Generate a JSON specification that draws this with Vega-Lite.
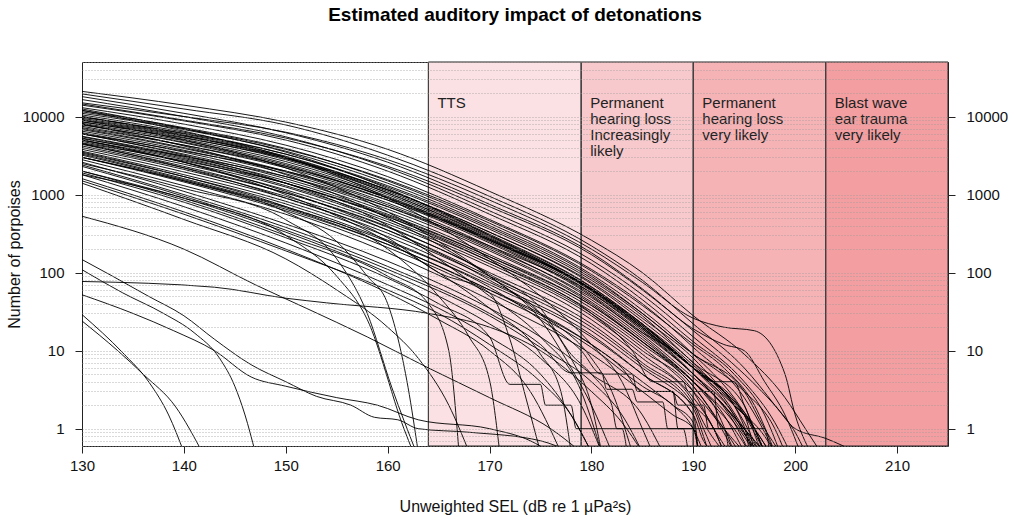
{
"$schema":"https://vega.github.io/schema/vega-lite/v6.json",
"width":866,"height":384,"autosize":"none",
"padding":{"left":82,"top":62,"right":70,"bottom":75},
"background":"white",
"config":{"font":"Liberation Sans","view":{"stroke":"#222","strokeWidth":1},
"axis":{"labelFont":"Liberation Sans","titleFont":"Liberation Sans","labelFontSize":15,"titleFontSize":16,"titleFontWeight":"normal","labelColor":"#111","titleColor":"#111","tickColor":"#222","domain":false,"labelOverlap":false,"labelFlush":false}},
"title":{"text":"Estimated auditory impact of detonations","fontSize":19,"fontWeight":"bold","anchor":"middle","offset":30,"color":"#000","font":"Liberation Sans"},
"datasets":{
"zones":[{"x":164,"x2":179,"zone":"z1","label":"TTS"},{"x":179,"x2":190,"zone":"z2","label":"Permanent\nhearing loss\nIncreasingly\nlikely"},{"x":190,"x2":203,"zone":"z3","label":"Permanent\nhearing loss\nvery likely"},{"x":203,"x2":215,"zone":"z4","label":"Blast wave\near trauma\nvery likely"}],
"curves":[
{"s":"A1","x":130,"y":21000},{"s":"A1","x":140,"y":14000},{"s":"A1","x":150,"y":8500},{"s":"A1","x":160,"y":3800},{"s":"A1","x":170,"y":1100},{"s":"A1","x":180,"y":260},{"s":"A1","x":185,"y":100},{"s":"A1","x":190,"y":28},{"s":"A1","x":195,"y":9},{"s":"A1","x":199,"y":2.5},{"s":"A1","x":201,"y":1},{"s":"A1","x":202.5,"y":0.5},
{"s":"A2","x":130,"y":19500},{"s":"A2","x":140,"y":12500},{"s":"A2","x":150,"y":7800},{"s":"A2","x":160,"y":3200},{"s":"A2","x":170,"y":950},{"s":"A2","x":180,"y":220},{"s":"A2","x":185,"y":80},{"s":"A2","x":190,"y":22},{"s":"A2","x":195,"y":6},{"s":"A2","x":198,"y":2},{"s":"A2","x":200,"y":0.9},{"s":"A2","x":201,"y":0.5},
{"s":"A3","x":130,"y":18000},{"s":"A3","x":140,"y":11000},{"s":"A3","x":150,"y":6200},{"s":"A3","x":160,"y":2600},{"s":"A3","x":170,"y":750},{"s":"A3","x":180,"y":180},{"s":"A3","x":185,"y":62},{"s":"A3","x":190,"y":19},{"s":"A3","x":193,"y":12},{"s":"A3","x":195,"y":10},{"s":"A3","x":197,"y":4},{"s":"A3","x":199,"y":1.5},{"s":"A3","x":200.5,"y":0.5},
{"s":"A4","x":130,"y":16500},{"s":"A4","x":140,"y":10000},{"s":"A4","x":150,"y":5500},{"s":"A4","x":160,"y":2200},{"s":"A4","x":170,"y":620},{"s":"A4","x":180,"y":145},{"s":"A4","x":185,"y":52},{"s":"A4","x":190,"y":15},{"s":"A4","x":195,"y":4},{"s":"A4","x":198,"y":1.2},{"s":"A4","x":199.5,"y":0.5},
{"s":"A5","x":130,"y":15000},{"s":"A5","x":140,"y":10000},{"s":"A5","x":150,"y":6300},{"s":"A5","x":160,"y":2800},{"s":"A5","x":170,"y":850},{"s":"A5","x":180,"y":200},{"s":"A5","x":185,"y":75},{"s":"A5","x":190,"y":26},{"s":"A5","x":193,"y":20},{"s":"A5","x":196,"y":18},{"s":"A5","x":199,"y":5},{"s":"A5","x":200,"y":1.5},{"s":"A5","x":201.5,"y":0.5},
{"s":"A6","x":130,"y":14000},{"s":"A6","x":140,"y":8800},{"s":"A6","x":150,"y":5000},{"s":"A6","x":160,"y":2000},{"s":"A6","x":170,"y":560},{"s":"A6","x":180,"y":130},{"s":"A6","x":185,"y":45},{"s":"A6","x":190,"y":13},{"s":"A6","x":194,"y":5},{"s":"A6","x":197,"y":1.5},{"s":"A6","x":198.5,"y":0.5},
{"s":"B1","x":130,"y":13000},{"s":"B1","x":140,"y":8000},{"s":"B1","x":150,"y":4300},{"s":"B1","x":160,"y":1700},{"s":"B1","x":170,"y":480},{"s":"B1","x":180,"y":110},{"s":"B1","x":185,"y":40},{"s":"B1","x":190,"y":11},{"s":"B1","x":195,"y":2.5},{"s":"B1","x":197,"y":0.9},{"s":"B1","x":198,"y":0.5},
{"s":"B2","x":130,"y":12000},{"s":"B2","x":140,"y":7200},{"s":"B2","x":150,"y":3900},{"s":"B2","x":160,"y":1500},{"s":"B2","x":170,"y":430},{"s":"B2","x":180,"y":95},{"s":"B2","x":185,"y":33},{"s":"B2","x":190,"y":9},{"s":"B2","x":194,"y":2.5},{"s":"B2","x":196.5,"y":0.8},{"s":"B2","x":197.5,"y":0.5},
{"s":"B3","x":130,"y":11000},{"s":"B3","x":140,"y":6800},{"s":"B3","x":150,"y":3600},{"s":"B3","x":160,"y":1400},{"s":"B3","x":170,"y":400},{"s":"B3","x":180,"y":90},{"s":"B3","x":185,"y":30},{"s":"B3","x":190,"y":9},{"s":"B3","x":195,"y":3},{"s":"B3","x":197,"y":1},{"s":"B3","x":198.5,"y":0.5},
{"s":"B4","x":130,"y":10500},{"s":"B4","x":140,"y":6300},{"s":"B4","x":150,"y":3300},{"s":"B4","x":160,"y":1250},{"s":"B4","x":170,"y":360},{"s":"B4","x":180,"y":80},{"s":"B4","x":185,"y":28},{"s":"B4","x":190,"y":7},{"s":"B4","x":195,"y":2},{"s":"B4","x":196.5,"y":0.6},{"s":"B4","x":197,"y":0.5},
{"s":"B5","x":130,"y":10000},{"s":"B5","x":140,"y":6000},{"s":"B5","x":150,"y":3100},{"s":"B5","x":160,"y":1150},{"s":"B5","x":170,"y":330},{"s":"B5","x":180,"y":72},{"s":"B5","x":185,"y":24},{"s":"B5","x":190,"y":7},{"s":"B5","x":194,"y":2},{"s":"B5","x":196,"y":1},{"s":"B5","x":197,"y":0.5},
{"s":"B6","x":130,"y":9500},{"s":"B6","x":140,"y":5700},{"s":"B6","x":150,"y":2900},{"s":"B6","x":160,"y":1100},{"s":"B6","x":170,"y":300},{"s":"B6","x":180,"y":65},{"s":"B6","x":185,"y":22},{"s":"B6","x":190,"y":6},{"s":"B6","x":194,"y":2},{"s":"B6","x":197,"y":0.8},{"s":"B6","x":198,"y":0.5},
{"s":"B7","x":130,"y":9000},{"s":"B7","x":140,"y":5400},{"s":"B7","x":150,"y":2800},{"s":"B7","x":160,"y":1050},{"s":"B7","x":170,"y":280},{"s":"B7","x":180,"y":60},{"s":"B7","x":185,"y":20},{"s":"B7","x":190,"y":6},{"s":"B7","x":195,"y":1.5},{"s":"B7","x":196,"y":0.5},
{"s":"B8","x":130,"y":8600},{"s":"B8","x":140,"y":5100},{"s":"B8","x":150,"y":2650},{"s":"B8","x":160,"y":1000},{"s":"B8","x":170,"y":270},{"s":"B8","x":180,"y":58},{"s":"B8","x":185,"y":19},{"s":"B8","x":190,"y":5},{"s":"B8","x":193,"y":2},{"s":"B8","x":196,"y":0.7},{"s":"B8","x":197,"y":0.5},
{"s":"B9","x":130,"y":8200},{"s":"B9","x":140,"y":4900},{"s":"B9","x":150,"y":2500},{"s":"B9","x":160,"y":950},{"s":"B9","x":170,"y":260},{"s":"B9","x":180,"y":55},{"s":"B9","x":185,"y":18},{"s":"B9","x":190,"y":5},{"s":"B9","x":194,"y":1.5},{"s":"B9","x":196,"y":0.5},
{"s":"B10","x":130,"y":7800},{"s":"B10","x":140,"y":4700},{"s":"B10","x":150,"y":2400},{"s":"B10","x":160,"y":900},{"s":"B10","x":170,"y":250},{"s":"B10","x":180,"y":52},{"s":"B10","x":185,"y":17},{"s":"B10","x":190,"y":5},{"s":"B10","x":195,"y":1},{"s":"B10","x":197,"y":0.5},
{"s":"B11","x":130,"y":11500},{"s":"B11","x":140,"y":7000},{"s":"B11","x":150,"y":3800},{"s":"B11","x":160,"y":1550},{"s":"B11","x":170,"y":460},{"s":"B11","x":180,"y":105},{"s":"B11","x":185,"y":38},{"s":"B11","x":190,"y":12},{"s":"B11","x":193,"y":6},{"s":"B11","x":196,"y":2},{"s":"B11","x":198,"y":0.5},
{"s":"B12","x":130,"y":9800},{"s":"B12","x":140,"y":6100},{"s":"B12","x":150,"y":3300},{"s":"B12","x":160,"y":1300},{"s":"B12","x":170,"y":380},{"s":"B12","x":180,"y":85},{"s":"B12","x":185,"y":30},{"s":"B12","x":190,"y":9},{"s":"B12","x":192,"y":6},{"s":"B12","x":195,"y":3},{"s":"B12","x":198,"y":1},{"s":"B12","x":199,"y":0.5},
{"s":"H1","x":130,"y":12500},{"s":"H1","x":140,"y":7000},{"s":"H1","x":150,"y":3500},{"s":"H1","x":160,"y":1200},{"s":"H1","x":170,"y":300},{"s":"H1","x":180,"y":60},{"s":"H1","x":185,"y":20},{"s":"H1","x":190,"y":5},{"s":"H1","x":194,"y":1.2},{"s":"H1","x":195.5,"y":0.5},
{"s":"H2","x":130,"y":10000},{"s":"H2","x":140,"y":5800},{"s":"H2","x":150,"y":3000},{"s":"H2","x":160,"y":1050},{"s":"H2","x":170,"y":290},{"s":"H2","x":180,"y":62},{"s":"H2","x":185,"y":21},{"s":"H2","x":190,"y":6},{"s":"H2","x":194,"y":1.5},{"s":"H2","x":196,"y":0.5},
{"s":"H3","x":130,"y":6000},{"s":"H3","x":140,"y":3600},{"s":"H3","x":150,"y":2000},{"s":"H3","x":160,"y":850},{"s":"H3","x":170,"y":260},{"s":"H3","x":180,"y":62},{"s":"H3","x":185,"y":22},{"s":"H3","x":190,"y":6.5},{"s":"H3","x":194,"y":2},{"s":"H3","x":196.5,"y":0.5},
{"s":"H4","x":130,"y":5200},{"s":"H4","x":140,"y":3100},{"s":"H4","x":150,"y":1700},{"s":"H4","x":160,"y":700},{"s":"H4","x":170,"y":220},{"s":"H4","x":180,"y":55},{"s":"H4","x":185,"y":19},{"s":"H4","x":190,"y":6},{"s":"H4","x":195,"y":1.5},{"s":"H4","x":197,"y":0.5},
{"s":"H5","x":130,"y":8500},{"s":"H5","x":140,"y":5300},{"s":"H5","x":150,"y":2900},{"s":"H5","x":160,"y":1150},{"s":"H5","x":170,"y":330},{"s":"H5","x":180,"y":75},{"s":"H5","x":185,"y":26},{"s":"H5","x":190,"y":8},{"s":"H5","x":193,"y":3},{"s":"H5","x":196,"y":1},{"s":"H5","x":197.5,"y":0.5},
{"s":"H6","x":130,"y":7200},{"s":"H6","x":140,"y":4300},{"s":"H6","x":150,"y":2300},{"s":"H6","x":160,"y":920},{"s":"H6","x":170,"y":270},{"s":"H6","x":180,"y":62},{"s":"H6","x":185,"y":21},{"s":"H6","x":190,"y":6},{"s":"H6","x":193,"y":2.5},{"s":"H6","x":195,"y":1},{"s":"H6","x":196.5,"y":0.5},
{"s":"H7","x":130,"y":9200},{"s":"H7","x":140,"y":5600},{"s":"H7","x":150,"y":3000},{"s":"H7","x":160,"y":1150},{"s":"H7","x":170,"y":310},{"s":"H7","x":180,"y":66},{"s":"H7","x":185,"y":22},{"s":"H7","x":190,"y":6},{"s":"H7","x":192,"y":4},{"s":"H7","x":194,"y":2},{"s":"H7","x":196,"y":0.5},
{"s":"H8","x":130,"y":4600},{"s":"H8","x":140,"y":2700},{"s":"H8","x":150,"y":1400},{"s":"H8","x":160,"y":540},{"s":"H8","x":170,"y":160},{"s":"H8","x":180,"y":38},{"s":"H8","x":185,"y":13},{"s":"H8","x":190,"y":4},{"s":"H8","x":192,"y":2},{"s":"H8","x":194,"y":0.5},
{"s":"C1","x":130,"y":7500},{"s":"C1","x":140,"y":4300},{"s":"C1","x":150,"y":2200},{"s":"C1","x":160,"y":850},{"s":"C1","x":170,"y":240},{"s":"C1","x":180,"y":50},{"s":"C1","x":185,"y":16},{"s":"C1","x":190,"y":4.5},{"s":"C1","x":193,"y":2},{"s":"C1","x":195.5,"y":0.7},{"s":"C1","x":196.5,"y":0.5},
{"s":"C2","x":130,"y":7000},{"s":"C2","x":140,"y":4000},{"s":"C2","x":150,"y":2000},{"s":"C2","x":160,"y":780},{"s":"C2","x":170,"y":220},{"s":"C2","x":180,"y":45},{"s":"C2","x":185,"y":15},{"s":"C2","x":190,"y":4},{"s":"C2","x":193,"y":1.5},{"s":"C2","x":195,"y":0.5},
{"s":"C3","x":130,"y":6500},{"s":"C3","x":140,"y":3700},{"s":"C3","x":150,"y":1850},{"s":"C3","x":160,"y":700},{"s":"C3","x":170,"y":200},{"s":"C3","x":180,"y":42},{"s":"C3","x":185,"y":14},{"s":"C3","x":190,"y":4},{"s":"C3","x":192,"y":2},{"s":"C3","x":194,"y":1},{"s":"C3","x":195.5,"y":0.5},
{"s":"C4","x":130,"y":6200},{"s":"C4","x":140,"y":3500},{"s":"C4","x":150,"y":1700},{"s":"C4","x":160,"y":650},{"s":"C4","x":170,"y":190},{"s":"C4","x":180,"y":40},{"s":"C4","x":185,"y":13},{"s":"C4","x":190,"y":3.5},{"s":"C4","x":193,"y":1},{"s":"C4","x":194.5,"y":0.5},
{"s":"C5","x":130,"y":6000},{"s":"C5","x":140,"y":3300},{"s":"C5","x":150,"y":1600},{"s":"C5","x":160,"y":600},{"s":"C5","x":170,"y":170},{"s":"C5","x":180,"y":38},{"s":"C5","x":185,"y":13},{"s":"C5","x":190,"y":4},{"s":"C5","x":194,"y":1.2},{"s":"C5","x":196,"y":0.5},
{"s":"C6","x":130,"y":5600},{"s":"C6","x":140,"y":3100},{"s":"C6","x":150,"y":1500},{"s":"C6","x":160,"y":560},{"s":"C6","x":170,"y":160},{"s":"C6","x":180,"y":35},{"s":"C6","x":185,"y":12},{"s":"C6","x":190,"y":3.5},{"s":"C6","x":192,"y":1.5},{"s":"C6","x":194,"y":0.5},
{"s":"C7","x":130,"y":5300},{"s":"C7","x":140,"y":2900},{"s":"C7","x":150,"y":1400},{"s":"C7","x":160,"y":520},{"s":"C7","x":170,"y":150},{"s":"C7","x":180,"y":32},{"s":"C7","x":185,"y":11},{"s":"C7","x":190,"y":3},{"s":"C7","x":193,"y":1},{"s":"C7","x":195,"y":0.5},
{"s":"C8","x":130,"y":5000},{"s":"C8","x":140,"y":2800},{"s":"C8","x":150,"y":1300},{"s":"C8","x":160,"y":480},{"s":"C8","x":170,"y":140},{"s":"C8","x":180,"y":30},{"s":"C8","x":185,"y":10},{"s":"C8","x":190,"y":3},{"s":"C8","x":192,"y":1},{"s":"C8","x":193.5,"y":0.5},
{"s":"C9","x":130,"y":4800},{"s":"C9","x":140,"y":2600},{"s":"C9","x":150,"y":1250},{"s":"C9","x":160,"y":450},{"s":"C9","x":170,"y":130},{"s":"C9","x":180,"y":28},{"s":"C9","x":185,"y":9},{"s":"C9","x":190,"y":2.5},{"s":"C9","x":192,"y":1},{"s":"C9","x":193,"y":0.5},
{"s":"C10","x":130,"y":4500},{"s":"C10","x":140,"y":2450},{"s":"C10","x":150,"y":1150},{"s":"C10","x":160,"y":420},{"s":"C10","x":170,"y":120},{"s":"C10","x":180,"y":25},{"s":"C10","x":185,"y":8},{"s":"C10","x":190,"y":2.2},{"s":"C10","x":191,"y":1.2},{"s":"C10","x":193,"y":0.5},
{"s":"C11","x":130,"y":8000},{"s":"C11","x":140,"y":4600},{"s":"C11","x":150,"y":2300},{"s":"C11","x":160,"y":900},{"s":"C11","x":170,"y":260},{"s":"C11","x":180,"y":60},{"s":"C11","x":185,"y":20},{"s":"C11","x":190,"y":6},{"s":"C11","x":192,"y":4},{"s":"C11","x":194,"y":4},{"s":"C11","x":195,"y":2},{"s":"C11","x":197,"y":0.5},
{"s":"C12","x":130,"y":6800},{"s":"C12","x":140,"y":3900},{"s":"C12","x":150,"y":1950},{"s":"C12","x":160,"y":740},{"s":"C12","x":170,"y":210},{"s":"C12","x":180,"y":48},{"s":"C12","x":185,"y":17},{"s":"C12","x":188,"y":10},{"s":"C12","x":190,"y":6},{"s":"C12","x":193,"y":3},{"s":"C12","x":196,"y":1},{"s":"C12","x":197,"y":0.5},
{"s":"D1","x":130,"y":4200},{"s":"D1","x":140,"y":2200},{"s":"D1","x":150,"y":1050},{"s":"D1","x":160,"y":390},{"s":"D1","x":170,"y":100},{"s":"D1","x":180,"y":22},{"s":"D1","x":185,"y":7},{"s":"D1","x":190,"y":2},{"s":"D1","x":191,"y":1},{"s":"D1","x":192,"y":0.5},
{"s":"D2","x":130,"y":4000},{"s":"D2","x":140,"y":2100},{"s":"D2","x":150,"y":950},{"s":"D2","x":160,"y":350},{"s":"D2","x":170,"y":90},{"s":"D2","x":180,"y":20},{"s":"D2","x":185,"y":6.5},{"s":"D2","x":190,"y":1.8},{"s":"D2","x":191,"y":0.8},{"s":"D2","x":191.5,"y":0.5},
{"s":"D3","x":130,"y":3800},{"s":"D3","x":140,"y":1950},{"s":"D3","x":150,"y":900},{"s":"D3","x":160,"y":320},{"s":"D3","x":170,"y":85},{"s":"D3","x":180,"y":18},{"s":"D3","x":185,"y":6},{"s":"D3","x":190,"y":2},{"s":"D3","x":192,"y":1},{"s":"D3","x":193,"y":0.5},
{"s":"D4","x":130,"y":3600},{"s":"D4","x":140,"y":1800},{"s":"D4","x":150,"y":820},{"s":"D4","x":160,"y":290},{"s":"D4","x":170,"y":75},{"s":"D4","x":180,"y":16},{"s":"D4","x":185,"y":5},{"s":"D4","x":190,"y":1.5},{"s":"D4","x":190.5,"y":0.5},
{"s":"D5","x":130,"y":3400},{"s":"D5","x":140,"y":1700},{"s":"D5","x":150,"y":760},{"s":"D5","x":160,"y":260},{"s":"D5","x":170,"y":70},{"s":"D5","x":180,"y":15},{"s":"D5","x":185,"y":5},{"s":"D5","x":190,"y":1.5},{"s":"D5","x":191,"y":0.7},{"s":"D5","x":192,"y":0.5},
{"s":"D6","x":130,"y":3200},{"s":"D6","x":140,"y":1550},{"s":"D6","x":150,"y":680},{"s":"D6","x":160,"y":230},{"s":"D6","x":170,"y":60},{"s":"D6","x":180,"y":12},{"s":"D6","x":185,"y":4},{"s":"D6","x":188,"y":2},{"s":"D6","x":190,"y":1.2},{"s":"D6","x":190.5,"y":0.5},
{"s":"D7","x":130,"y":3000},{"s":"D7","x":140,"y":1450},{"s":"D7","x":150,"y":620},{"s":"D7","x":160,"y":210},{"s":"D7","x":170,"y":55},{"s":"D7","x":180,"y":11},{"s":"D7","x":185,"y":3.5},{"s":"D7","x":188,"y":2},{"s":"D7","x":190,"y":1},{"s":"D7","x":191,"y":0.5},
{"s":"D8","x":130,"y":2800},{"s":"D8","x":140,"y":1300},{"s":"D8","x":150,"y":560},{"s":"D8","x":160,"y":180},{"s":"D8","x":170,"y":45},{"s":"D8","x":180,"y":9},{"s":"D8","x":185,"y":3},{"s":"D8","x":188,"y":1.5},{"s":"D8","x":190,"y":1},{"s":"D8","x":190.5,"y":0.5},
{"s":"E1","x":130,"y":2600},{"s":"E1","x":140,"y":1100},{"s":"E1","x":150,"y":420},{"s":"E1","x":160,"y":140},{"s":"E1","x":170,"y":35},{"s":"E1","x":175,"y":15},{"s":"E1","x":180,"y":5},{"s":"E1","x":185,"y":1.5},{"s":"E1","x":187,"y":0.5},
{"s":"E2","x":130,"y":2300},{"s":"E2","x":140,"y":950},{"s":"E2","x":150,"y":350},{"s":"E2","x":160,"y":110},{"s":"E2","x":170,"y":28},{"s":"E2","x":175,"y":11},{"s":"E2","x":180,"y":4},{"s":"E2","x":183,"y":1.5},{"s":"E2","x":185,"y":0.5},
{"s":"E3","x":130,"y":2000},{"s":"E3","x":140,"y":900},{"s":"E3","x":150,"y":330},{"s":"E3","x":160,"y":100},{"s":"E3","x":165,"y":50},{"s":"E3","x":170,"y":22},{"s":"E3","x":175,"y":8},{"s":"E3","x":179,"y":2},{"s":"E3","x":181,"y":0.5},
{"s":"E4","x":130,"y":1800},{"s":"E4","x":140,"y":700},{"s":"E4","x":150,"y":240},{"s":"E4","x":160,"y":70},{"s":"E4","x":165,"y":35},{"s":"E4","x":170,"y":15},{"s":"E4","x":175,"y":5},{"s":"E4","x":178,"y":1.5},{"s":"E4","x":180,"y":0.5},
{"s":"E5","x":130,"y":1600},{"s":"E5","x":140,"y":600},{"s":"E5","x":150,"y":200},{"s":"E5","x":160,"y":55},{"s":"E5","x":165,"y":25},{"s":"E5","x":170,"y":10},{"s":"E5","x":174,"y":3},{"s":"E5","x":177,"y":0.5},
{"s":"F1","x":130,"y":9000},{"s":"F1","x":140,"y":5000},{"s":"F1","x":150,"y":2200},{"s":"F1","x":160,"y":600},{"s":"F1","x":165,"y":250},{"s":"F1","x":170,"y":90},{"s":"F1","x":175,"y":25},{"s":"F1","x":178,"y":6},{"s":"F1","x":180,"y":2},{"s":"F1","x":182,"y":0.5},
{"s":"F2","x":130,"y":6000},{"s":"F2","x":140,"y":3200},{"s":"F2","x":150,"y":1400},{"s":"F2","x":160,"y":400},{"s":"F2","x":165,"y":150},{"s":"F2","x":170,"y":50},{"s":"F2","x":175,"y":15},{"s":"F2","x":179,"y":3},{"s":"F2","x":181,"y":0.5},
{"s":"F3","x":130,"y":12000},{"s":"F3","x":140,"y":6500},{"s":"F3","x":150,"y":3000},{"s":"F3","x":160,"y":900},{"s":"F3","x":170,"y":150},{"s":"F3","x":175,"y":50},{"s":"F3","x":180,"y":12},{"s":"F3","x":183,"y":4},{"s":"F3","x":185,"y":1},{"s":"F3","x":186,"y":0.5},
{"s":"F4","x":130,"y":8000},{"s":"F4","x":140,"y":4200},{"s":"F4","x":150,"y":1800},{"s":"F4","x":160,"y":500},{"s":"F4","x":170,"y":90},{"s":"F4","x":175,"y":30},{"s":"F4","x":180,"y":8},{"s":"F4","x":182,"y":3},{"s":"F4","x":184,"y":0.5},
{"s":"F5","x":130,"y":5000},{"s":"F5","x":140,"y":2600},{"s":"F5","x":150,"y":1000},{"s":"F5","x":160,"y":250},{"s":"F5","x":165,"y":100},{"s":"F5","x":170,"y":35},{"s":"F5","x":175,"y":9},{"s":"F5","x":177,"y":3},{"s":"F5","x":178,"y":0.5},
{"s":"S1","x":130,"y":3000},{"s":"S1","x":140,"y":1500},{"s":"S1","x":150,"y":600},{"s":"S1","x":155,"y":250},{"s":"S1","x":158,"y":90},{"s":"S1","x":160,"y":40},{"s":"S1","x":162,"y":3.4},{"s":"S1","x":163,"y":0.5},
{"s":"S2","x":130,"y":2500},{"s":"S2","x":140,"y":1200},{"s":"S2","x":150,"y":475},{"s":"S2","x":155,"y":150},{"s":"S2","x":158,"y":30},{"s":"S2","x":160.4,"y":3.4},{"s":"S2","x":162.8,"y":0.5},
{"s":"S3","x":130,"y":1800},{"s":"S3","x":140,"y":900},{"s":"S3","x":150,"y":300},{"s":"S3","x":155,"y":90},{"s":"S3","x":158,"y":25},{"s":"S3","x":161.6,"y":1},{"s":"S3","x":162.5,"y":0.5},
{"s":"S4","x":130,"y":3500},{"s":"S4","x":140,"y":1700},{"s":"S4","x":150,"y":700},{"s":"S4","x":160,"y":200},{"s":"S4","x":165,"y":50},{"s":"S4","x":168,"y":15},{"s":"S4","x":170,"y":4.2},{"s":"S4","x":171,"y":0.5},
{"s":"S5","x":130,"y":4500},{"s":"S5","x":140,"y":2200},{"s":"S5","x":150,"y":900},{"s":"S5","x":160,"y":280},{"s":"S5","x":165,"y":100},{"s":"S5","x":170,"y":55},{"s":"S5","x":172,"y":14},{"s":"S5","x":173.6,"y":2.4},{"s":"S5","x":175,"y":0.5},
{"s":"S6","x":130,"y":5000},{"s":"S6","x":140,"y":2600},{"s":"S6","x":150,"y":1100},{"s":"S6","x":160,"y":350},{"s":"S6","x":170,"y":80},{"s":"S6","x":175,"y":30},{"s":"S6","x":178,"y":8},{"s":"S6","x":180,"y":2},{"s":"S6","x":181,"y":0.5},
{"s":"S7","x":130,"y":2000},{"s":"S7","x":140,"y":850},{"s":"S7","x":150,"y":300},{"s":"S7","x":160,"y":90},{"s":"S7","x":164,"y":40},{"s":"S7","x":166,"y":10},{"s":"S7","x":167,"y":0.5},
{"s":"G1","x":130,"y":3000},{"s":"G1","x":140,"y":1500},{"s":"G1","x":150,"y":650},{"s":"G1","x":160,"y":230},{"s":"G1","x":170,"y":60},{"s":"G1","x":175,"y":30},{"s":"G1","x":180,"y":12},{"s":"G1","x":183,"y":6},{"s":"G1","x":185,"y":3},{"s":"G1","x":188,"y":3},{"s":"G1","x":188.5,"y":2},{"s":"G1","x":191,"y":2},{"s":"G1","x":191.5,"y":1},{"s":"G1","x":195,"y":1},{"s":"G1","x":195.5,"y":0.5},
{"s":"G2","x":130,"y":5500},{"s":"G2","x":140,"y":3000},{"s":"G2","x":150,"y":1400},{"s":"G2","x":160,"y":520},{"s":"G2","x":170,"y":140},{"s":"G2","x":180,"y":30},{"s":"G2","x":184,"y":10},{"s":"G2","x":186,"y":4},{"s":"G2","x":189,"y":4},{"s":"G2","x":189.5,"y":3},{"s":"G2","x":192,"y":3},{"s":"G2","x":192.5,"y":1},{"s":"G2","x":197,"y":1},{"s":"G2","x":197.5,"y":0.5},
{"s":"G3","x":130,"y":4400},{"s":"G3","x":140,"y":2300},{"s":"G3","x":150,"y":1050},{"s":"G3","x":160,"y":380},{"s":"G3","x":170,"y":95},{"s":"G3","x":175,"y":35},{"s":"G3","x":178,"y":9},{"s":"G3","x":180,"y":5},{"s":"G3","x":182,"y":2},{"s":"G3","x":182.5,"y":1},{"s":"G3","x":190,"y":1},{"s":"G3","x":190.5,"y":0.5},
{"s":"G4","x":130,"y":14500},{"s":"G4","x":140,"y":9000},{"s":"G4","x":150,"y":5300},{"s":"G4","x":160,"y":2300},{"s":"G4","x":170,"y":700},{"s":"G4","x":180,"y":170},{"s":"G4","x":185,"y":60},{"s":"G4","x":190,"y":18},{"s":"G4","x":195,"y":5},{"s":"G4","x":198,"y":2},{"s":"G4","x":200,"y":1},{"s":"G4","x":203,"y":0.75},{"s":"G4","x":206,"y":0.5},
{"s":"G5","x":130,"y":2400},{"s":"G5","x":140,"y":1000},{"s":"G5","x":150,"y":380},{"s":"G5","x":160,"y":120},{"s":"G5","x":170,"y":30},{"s":"G5","x":175,"y":12},{"s":"G5","x":178,"y":5.2},{"s":"G5","x":181,"y":5.2},{"s":"G5","x":181.5,"y":3.2},{"s":"G5","x":184,"y":3.2},{"s":"G5","x":184.5,"y":2.2},{"s":"G5","x":187,"y":2.2},{"s":"G5","x":187.5,"y":1},{"s":"G5","x":189,"y":1},{"s":"G5","x":189.5,"y":0.5},
{"s":"G6","x":130,"y":3300},{"s":"G6","x":140,"y":1600},{"s":"G6","x":150,"y":700},{"s":"G6","x":160,"y":250},{"s":"G6","x":170,"y":65},{"s":"G6","x":175,"y":25},{"s":"G6","x":179,"y":10},{"s":"G6","x":181,"y":5},{"s":"G6","x":184,"y":5},{"s":"G6","x":184.5,"y":3},{"s":"G6","x":188,"y":3},{"s":"G6","x":188.5,"y":1},{"s":"G6","x":193,"y":1},{"s":"G6","x":193.5,"y":0.5},
{"s":"G7","x":130,"y":1900},{"s":"G7","x":140,"y":800},{"s":"G7","x":150,"y":280},{"s":"G7","x":160,"y":85},{"s":"G7","x":165,"y":40},{"s":"G7","x":170,"y":15},{"s":"G7","x":172,"y":3.7},{"s":"G7","x":175,"y":3.7},{"s":"G7","x":175.5,"y":2},{"s":"G7","x":178,"y":2},{"s":"G7","x":178.5,"y":1},{"s":"G7","x":183,"y":1},{"s":"G7","x":183.5,"y":0.5},
{"s":"M1","x":130,"y":1500},{"s":"M1","x":140,"y":560},{"s":"M1","x":150,"y":190},{"s":"M1","x":160,"y":60},{"s":"M1","x":165,"y":30},{"s":"M1","x":170,"y":12},{"s":"M1","x":175,"y":4},{"s":"M1","x":178,"y":1.5},{"s":"M1","x":180,"y":0.5},
{"s":"M2","x":130,"y":1400},{"s":"M2","x":140,"y":480},{"s":"M2","x":150,"y":150},{"s":"M2","x":155,"y":60},{"s":"M2","x":160,"y":20},{"s":"M2","x":163,"y":8},{"s":"M2","x":166,"y":2},{"s":"M2","x":168,"y":0.5},
{"s":"O1","x":130,"y":528},{"s":"O1","x":140,"y":200},{"s":"O1","x":147,"y":70},{"s":"O1","x":152,"y":35},{"s":"O1","x":158,"y":15},{"s":"O1","x":164,"y":6},{"s":"O1","x":170,"y":2.5},{"s":"O1","x":176,"y":1},{"s":"O1","x":179,"y":0.5},
{"s":"O2","x":130,"y":77},{"s":"O2","x":143,"y":65},{"s":"O2","x":150,"y":47},{"s":"O2","x":154,"y":41},{"s":"O2","x":164,"y":30},{"s":"O2","x":170,"y":20},{"s":"O2","x":175,"y":10},{"s":"O2","x":180,"y":3},{"s":"O2","x":183,"y":1.2},{"s":"O2","x":185,"y":0.5},
{"s":"O3","x":130,"y":147},{"s":"O3","x":133,"y":90},{"s":"O3","x":136.5,"y":50},{"s":"O3","x":140,"y":28},{"s":"O3","x":143,"y":14},{"s":"O3","x":146.6,"y":6.6},{"s":"O3","x":150,"y":4},{"s":"O3","x":153,"y":2.6},{"s":"O3","x":156.4,"y":2},{"s":"O3","x":158.7,"y":1.4},{"s":"O3","x":161,"y":1.3},{"s":"O3","x":163,"y":1},{"s":"O3","x":168,"y":0.9},{"s":"O3","x":175,"y":0.7},{"s":"O3","x":178,"y":0.5},
{"s":"O4","x":130,"y":109},{"s":"O4","x":134,"y":55},{"s":"O4","x":138,"y":30},{"s":"O4","x":141,"y":17},{"s":"O4","x":143.5,"y":8},{"s":"O4","x":145,"y":3.5},{"s":"O4","x":146,"y":1.5},{"s":"O4","x":147,"y":0.5},
{"s":"O5","x":130,"y":52},{"s":"O5","x":135,"y":30},{"s":"O5","x":139,"y":18},{"s":"O5","x":143,"y":10},{"s":"O5","x":146.6,"y":4.6},{"s":"O5","x":150,"y":3.5},{"s":"O5","x":155,"y":2.5},{"s":"O5","x":159,"y":2},{"s":"O5","x":163,"y":1.3},{"s":"O5","x":170,"y":1},{"s":"O5","x":174,"y":0.7},{"s":"O5","x":176,"y":0.5},
{"s":"O6","x":130,"y":29},{"s":"O6","x":134,"y":9.4},{"s":"O6","x":136.6,"y":3.9},{"s":"O6","x":138.5,"y":1.5},{"s":"O6","x":140,"y":0.5},
{"s":"O7","x":130,"y":24},{"s":"O7","x":133.5,"y":10},{"s":"O7","x":136,"y":5},{"s":"O7","x":139.2,"y":1.9},{"s":"O7","x":141.8,"y":0.5}
]},
"encoding":{"x":{"field":"x","type":"quantitative","scale":{"domain":[130,215],"nice":false,"zero":false},
"axis":{"values":[130,140,150,160,170,180,190,200,210],"tickSize":7,"labelPadding":5,"grid":false,"title":"Unweighted SEL (dB re 1 µPa²s)","titlePadding":25}}},
"layer":[
{"data":{"name":"zones"},"mark":{"type":"rect","stroke":"#222","strokeWidth":1},
 "encoding":{"x2":{"field":"x2"},"color":{"field":"zone","type":"nominal","scale":{"domain":["z1","z2","z3","z4"],"range":["#fbe1e3","#f8c9cc","#f5b3b6","#f39ea1"]},"legend":null}}},
{"data":{"name":"zones"},"mark":{"type":"rule","color":"#444","strokeWidth":1},"encoding":{}},
{"data":{"name":"curves"},"transform":[{"filter":"indexof(datum.s,'O')!=0"}],
 "mark":{"type":"line","color":"#000","strokeWidth":1,"clip":true,"opacity":0.9,"interpolate":"monotone"},
 "encoding":{"y":{"field":"y","type":"quantitative","scale":{"type":"log","domain":[0.6,50000],"nice":false},
  "axis":{"orient":"left","zindex":1,"values":[0.6,0.7,0.8,0.9,1,2,3,4,5,6,7,8,9,10,20,30,40,50,60,70,80,90,100,200,300,400,500,600,700,800,900,1000,2000,3000,4000,5000,6000,7000,8000,9000,10000,20000,30000,40000,50000],
  "grid":true,"gridColor":"#999","gridOpacity":0.75,"gridDash":[1,2],"tickSize":7,
  "tickOpacity":{"condition":{"test":"indexof([1,10,100,1000,10000], datum.value) >= 0","value":1},"value":0},
  "labelExpr":"indexof([1,10,100,1000,10000], datum.value) >= 0 ? format(datum.value,'d') : ''","labelPadding":11,
  "title":"Number of porpoises","titleX":-60,"titleY":192,"titleBaseline":"bottom","titleAngle":-90}},
  "detail":{"field":"s"}}},
{"data":{"name":"curves"},"transform":[{"filter":"indexof(datum.s,'O')==0"}],
 "mark":{"type":"line","color":"#000","strokeWidth":1,"clip":true,"opacity":0.9,"interpolate":"monotone"},
 "encoding":{"y":{"field":"y","type":"quantitative","scale":{"type":"log","domain":[0.6,50000],"nice":false},
  "axis":{"orient":"right","values":[1,10,100,1000,10000],"format":"d","grid":false,"tickSize":7,"labelPadding":11,"title":null}},
  "detail":{"field":"s"}}},
{"data":{"name":"zones"},"mark":{"type":"text","align":"left","baseline":"alphabetic","dx":9,"fontSize":15,"lineHeight":16,"lineBreak":"\n","color":"#222","font":"Liberation Sans"},
 "encoding":{"y":{"datum":13000,"type":"quantitative","scale":{"type":"log","domain":[0.6,50000],"nice":false},"axis":null},"text":{"field":"label"}}}
],
"resolve":{"axis":{"y":"independent"}}
}
